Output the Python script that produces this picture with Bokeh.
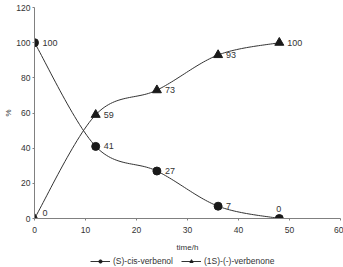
import numpy as np
from bokeh.plotting import figure
from bokeh.layouts import column
from bokeh.models import Legend, LegendItem
from bokeh.core.properties import value
from bokeh.embed import file_html
from bokeh.resources import INLINE

time_h = [0, 12, 24, 36, 48]
verbenol = [100, 41, 27, 7, 0]
verbenone = [0, 59, 73, 93, 100]
x_ticks = [0, 10, 20, 30, 40, 50, 60]
y_ticks = [0, 20, 40, 60, 80, 100, 120]
series_names = ["(S)-cis-verbenol", "(1S)-(-)-verbenone"]

FONT = "Liberation Sans"
DARK = "#333333"
AXIS = "#808080"

FW, FH = 306, 211
XR, YR = 60.0, 120.0


def smooth(xs, ys, n=30):
    sx, sy = FW / XR, FH / YR
    P = np.column_stack([np.array(xs) * sx, np.array(ys) * sy]).astype(float)
    out = []
    for i in range(len(P) - 1):
        p0 = P[i - 1] if i > 0 else P[i]
        p1, p2 = P[i], P[i + 1]
        p3 = P[i + 2] if i + 2 < len(P) else P[i + 1]
        c1 = p1 + (p2 - p0) / 6.0
        c2 = p2 - (p3 - p1) / 6.0
        t = np.linspace(0, 1, n)[:, None]
        seg = ((1 - t) ** 3) * p1 + 3 * ((1 - t) ** 2) * t * c1 + 3 * (1 - t) * t ** 2 * c2 + t ** 3 * p2
        out.append(seg if i == 0 else seg[1:])
    S = np.vstack(out)
    return S[:, 0] / sx, S[:, 1] / sy


p = figure(width=343, height=254, output_backend="svg", toolbar_location=None,
           x_range=(0, 60), y_range=(0, 120),
           min_border_left=34, min_border_right=3, min_border_top=7, min_border_bottom=36)
p.outline_line_color = None
p.grid.visible = False

for ax in (p.xaxis[0], p.yaxis[0]):
    ax.axis_line_color = AXIS
    ax.major_tick_line_color = AXIS
    ax.minor_tick_line_color = None
    ax.major_tick_out = 2
    ax.major_tick_in = 0
    ax.major_label_text_font = FONT
    ax.major_label_text_font_size = "8.5px"
    ax.major_label_text_color = DARK
    ax.axis_label_text_font = FONT
    ax.axis_label_text_font_size = "8px"
    ax.axis_label_text_font_style = "normal"
    ax.axis_label_text_color = DARK

p.xaxis.ticker = x_ticks
p.yaxis.ticker = y_ticks
p.xaxis.axis_label = "time/h"
p.yaxis.axis_label = "%"
p.xaxis.major_label_standoff = 6
p.yaxis.major_label_standoff = 2
p.xaxis.axis_label_standoff = 7
p.yaxis.axis_label_standoff = 0

vx, vy = smooth(time_h, verbenol)
nx, ny = smooth(time_h, verbenone)
p.line(vx, vy, line_color=DARK, line_width=1)
p.line(nx, ny, line_color=DARK, line_width=1)
p.scatter(time_h, verbenol, marker="circle", size=8, fill_color="#1a1a1a", line_color="#1a1a1a")
p.scatter(time_h, verbenone, marker="triangle", size=9, fill_color="#1a1a1a", line_color="#1a1a1a")

lab_font = dict(text_font=value(FONT), text_font_size="9px", text_color=DARK)
vx_off = [8, 8, 8, 8, -3]
vy_off = [0, 0, 0, 0, 10]
p.text(x=time_h, y=verbenol, text=[str(v) for v in verbenol], x_offset=vx_off, y_offset=[-o for o in vy_off],
       text_baseline="middle", text_align="left", **lab_font)
nx_off = [8, 8, 8, 8, 8]
ny_off = [6, 0, 0, 0, 0]
p.text(x=time_h, y=verbenone, text=[str(v) for v in verbenone], x_offset=nx_off, y_offset=[-o for o in ny_off],
       text_baseline="middle", text_align="left", **lab_font)

# legend strip (renderers sit outside the visible range; only their legend glyphs show)
q = figure(width=343, height=13, output_backend="svg", toolbar_location=None,
           x_range=(0, 1), y_range=(0, 1), min_border=0)
q.axis.visible = False
q.grid.visible = False
q.outline_line_color = None
far = [5, 6]
ql1 = q.line(far, far, line_color=DARK, line_width=1)
qc1 = q.scatter(far, far, marker="circle", size=5, fill_color="#1a1a1a", line_color="#1a1a1a")
ql2 = q.line(far, far, line_color=DARK, line_width=1)
qc2 = q.scatter(far, far, marker="triangle", size=6, fill_color="#1a1a1a", line_color="#1a1a1a")
legend = Legend(items=[LegendItem(label=series_names[0], renderers=[ql1, qc1]),
                       LegendItem(label=series_names[1], renderers=[ql2, qc2])],
                orientation="horizontal", location=(56, 1),
                label_text_font=FONT, label_text_font_size="8.5px", label_text_color=DARK,
                glyph_width=20, glyph_height=8, label_standoff=3, spacing=8,
                padding=0, margin=0, border_line_color=None, background_fill_alpha=0,
                label_height=8)
q.add_layout(legend)

layout = column(p, q, spacing=0)
open("out.html", "w").write(file_html(layout, INLINE))
